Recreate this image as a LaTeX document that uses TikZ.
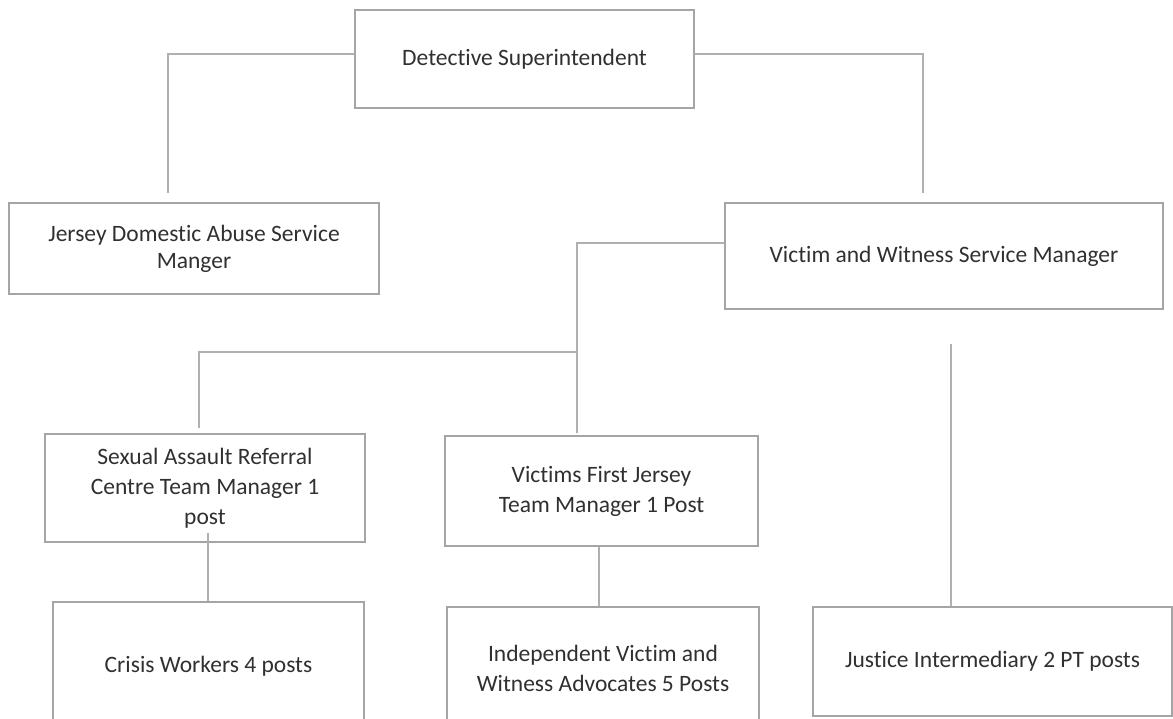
\documentclass[tikz,border=0pt]{standalone}
\usepackage{fontspec}
\setmainfont{Carlito}[Ligatures=NoCommon]
\definecolor{boxgray}{HTML}{A5A5A5}
\definecolor{linegray}{HTML}{B0B0B0}
\definecolor{textgray}{HTML}{303030}
\begin{document}
\begin{tikzpicture}[
        x=1pt, y=-1pt,
        post/.style={draw=boxgray, line width=2pt, align=center, inner sep=0pt,
            text=textgray, font=\fontsize{23.5}{30}\selectfont},
        link/.style={draw=linegray, line width=1.2pt}
    ]
    \useasboundingbox (0,0) rectangle (1173,718);
    \clip (0,0) rectangle (1173,718);
    % Nodes
    \node[post, minimum width=339pt, minimum height=98pt] (super) at (524.5, 59) {Detective Superintendent};
    \node[post, minimum width=370pt, minimum height=91pt, font=\fontsize{23.5}{27}\selectfont] (jdas) at (194, 248.5) {Jersey Domestic Abuse Service\\Manger};
    \node[post, minimum width=438pt, minimum height=106pt] (vws) at (944, 256) {Victim and Witness Service Manager};
    \node[post, minimum width=320pt, minimum height=108pt] (sarc) at (205, 488) {Sexual Assault Referral\\Centre Team Manager 1\\post};
    \node[post, minimum width=313pt, minimum height=110pt] (vfj) at (601.5, 491) {Victims First Jersey\\Team Manager 1 Post};
    \node[post, minimum width=311pt, minimum height=128pt] (crisis) at (208.5, 666) {Crisis Workers 4 posts};
    \node[post, minimum width=312pt, minimum height=123pt] (ivwa) at (603, 668.5) {Independent Victim and\\Witness Advocates 5 Posts};
    \node[post, minimum width=359pt, minimum height=109pt] (justice) at (992.5, 661.5) {Justice Intermediary 2 PT posts};
    % Line ends
    \coordinate (jdas-top) at (168, 193);
    \coordinate (vws-top) at (923, 193);
    \coordinate (vfj-top) at (577, 433);
    \coordinate (split) at (577, 352);
    \coordinate (sarc-top) at (199, 428);
    \coordinate (sarc-stem) at (208, 533);
    \coordinate (vws-stem) at (951, 344);
    % Edges
    \draw[link] ([yshift=5pt]super.west) -| (jdas-top);
    \draw[link] ([yshift=5pt]super.east) -| (vws-top);
    \draw[link] ([yshift=13pt]vws.west) -| (vfj-top);
    \draw[link] (split) -| (sarc-top);
    \draw[link] (sarc-stem) -- (sarc-stem |- crisis.north);
    \draw[link] (vfj.south -| 599,0) -- (ivwa.north -| 599,0);
    \draw[link] (vws-stem) -- (vws-stem |- justice.north);
\end{tikzpicture}
\end{document}
